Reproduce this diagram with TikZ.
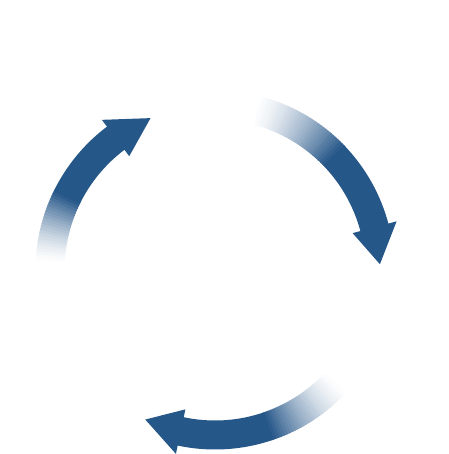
\documentclass[tikz,border=0pt]{standalone}
\definecolor{cycleblue}{RGB}{38,87,137}
% #1 white end, #2 full colour, #3 head base, #4 tip (angles, clockwise)
\newcommand{\cyclearrow}[4]{%
  \pgfmathtruncatemacro\nseg{#1-#2-1}
  \foreach \i in {0,...,\nseg}{
    \pgfmathsetmacro\a{#1-\i}
    \pgfmathsetmacro\b{#1-\i-1.6}
    \pgfmathtruncatemacro\p{100*((\i+0.5)/(#1-#2))^1.5}
    \fill[cycleblue!\p!white] (\a:150.5) arc[start angle=\a, end angle=\b, radius=150.5]
      -- (\b:179.5) arc[start angle=\b, end angle=\a, radius=179.5] -- cycle;
  }
  \pgfmathsetmacro\b{#3-0.5}
  \fill[cycleblue] (#2:150.5) arc[start angle=#2, end angle=\b, radius=150.5]
    -- (\b:179.5) arc[start angle=\b, end angle=#2, radius=179.5] -- cycle;
  \fill[cycleblue] (#3:142.5) -- (#4:165) -- (#3:188) -- cycle;
}
\begin{document}
\begin{tikzpicture}[x=1pt,y=1pt]
    \useasboundingbox (0,0) rectangle (448,454);
    \begin{scope}[shift={(215,184)}]
        \cyclearrow{178}{154}{127}{113}
        \cyclearrow{77}{44}{15}{2}
        \cyclearrow{318}{289}{258}{245}
    \end{scope}
\end{tikzpicture}
\end{document}
